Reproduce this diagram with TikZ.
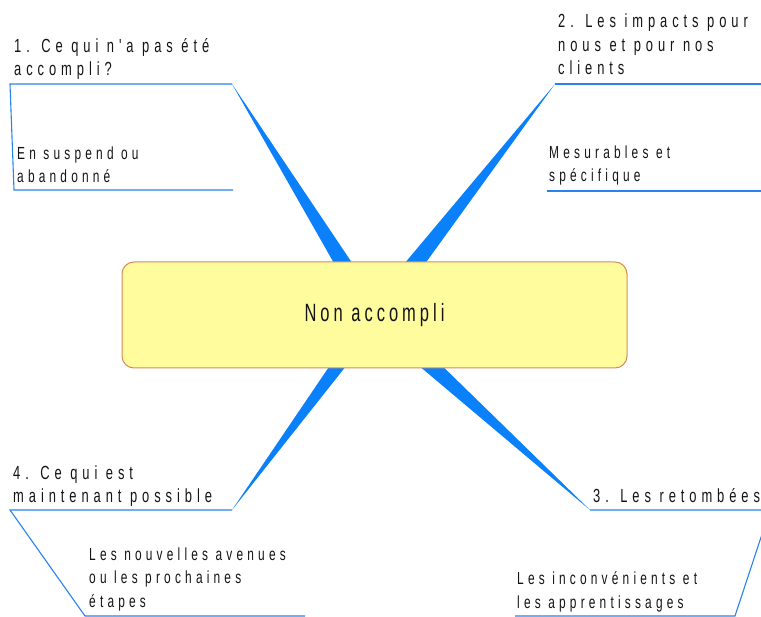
\documentclass[tikz,border=0pt]{standalone}
\usepackage{fontspec}
\usetikzlibrary{calc}
\newfontfamily\headfont[FakeStretch=0.68,LetterSpace=26]{Liberation Sans}
\newfontfamily\bodyfont[FakeStretch=0.68,LetterSpace=24]{Liberation Sans}
\newfontfamily\corefont[FakeStretch=0.66,LetterSpace=16]{Liberation Sans}
\definecolor{branchblue}{RGB}{10,128,250}
\definecolor{frameblue}{RGB}{40,130,240}
\definecolor{corefill}{RGB}{255,252,158}
\definecolor{coreline}{RGB}{214,138,94}
\definecolor{inkgray}{RGB}{20,20,20}
\tikzset{
  wedge/.style={fill=branchblue, draw=none},
  frame/.style={draw=frameblue, line width=1.1pt, line join=miter},
  % multi-line nodes: the base anchor sits on the last line
  headtext/.style={font=\headfont\fontsize{19}{23.5}\selectfont, text=inkgray,
    align=left, inner sep=0pt, anchor=base west},
  bodytext/.style={font=\bodyfont\fontsize{17.5}{23.5}\selectfont, text=inkgray,
    align=left, inner sep=0pt, anchor=base west},
  corebox/.style={draw=coreline, line width=1pt, fill=corefill, rounded corners=12pt,
    minimum width=505pt, minimum height=106pt, inner sep=0pt,
    font=\corefont\fontsize{25}{28}\selectfont, text=inkgray},
}
\begin{document}
\begin{tikzpicture}[x=1pt, y=-1pt]
  \useasboundingbox (0,0) rectangle (761,617);
  \clip (0,0) rectangle (761,617);

  % hub and the tips of the four branches
  \coordinate (hub) at (375,315);
  \coordinate (tipA) at (232,84);
  \coordinate (tipB) at (555,84);
  \coordinate (tipC) at (590,510);
  \coordinate (tipD) at (232,510);

  % tapering branches
  \foreach \t/\w in {tipA/10, tipB/10.5, tipC/10.5, tipD/9} {
    \fill[wedge] ($(hub)!\w pt!90:(\t)$) -- (\t) -- ($(hub)!\w pt!-90:(\t)$) -- cycle;
  }

  % frames around each branch
  \coordinate (a1) at (10,84);  \coordinate (a2) at (14,190); \coordinate (a3) at (233,190);
  \coordinate (b1) at (770,84); \coordinate (b2) at (547,191); \coordinate (b3) at (770,191);
  \coordinate (c1) at (770,510); \coordinate (c2) at (735,616); \coordinate (c3) at (515,616);
  \coordinate (d1) at (10,510); \coordinate (d2) at (85,616); \coordinate (d3) at (305,616);

  \draw[frame] (tipA) -- (a1) -- (a2) -- (a3);
  \draw[frame] (tipB) -- (b1);
  \draw[frame] (b2) -- (b3);
  \draw[frame] (tipC) -- (c1) -- (c2) -- (c3);
  \draw[frame] (tipD) -- (d1) -- (d2) -- (d3);

  % central topic
  \node[corebox] (core) at (374.5,315) {Non accompli};

  % branch titles
  \node[headtext] (headA) at (14,76) {1. Ce qui n'a pas été\\accompli?};
  \node[headtext] (headB) at (558,75) {2. Les impacts pour\\nous et pour nos\\clients};
  \node[headtext] (headC) at (593,503) {3. Les retombées};
  \node[headtext] (headD) at (13,503) {4. Ce qui est\\maintenant possible};

  % branch details
  \node[bodytext] (bodyA) at (17,183) {En suspend ou\\abandonné};
  \node[bodytext] (bodyB) at (549,182) {Mesurables et\\spécifique};
  \node[bodytext] (bodyC) at (517,608) {Les inconvénients et\\les apprentissages};
  \node[bodytext] (bodyD) at (89,607) {Les nouvelles avenues\\ou les prochaines\\étapes};
\end{tikzpicture}
\end{document}
